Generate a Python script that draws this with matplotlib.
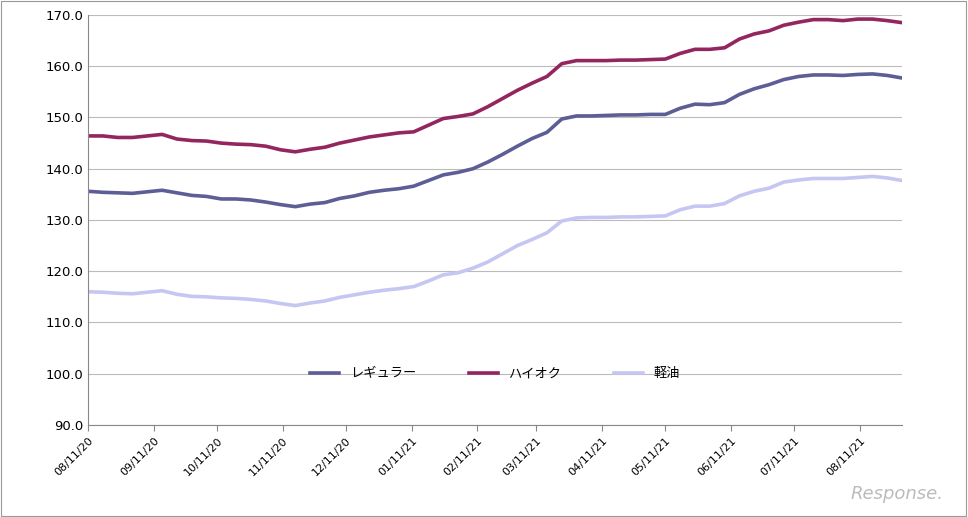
#!/usr/bin/env python3
"""Weekly gasoline / diesel retail price chart."""
import matplotlib.pyplot as plt
import matplotlib.dates as mdates
import pandas as pd

plt.rcParams["font.family"] = ["DejaVu Sans", "Noto Sans CJK JP"]

DATES = pd.date_range("2020-08-11", periods=56, freq="7D")
REGULAR = [135.6, 135.4, 135.3, 135.2, 135.5, 135.8, 135.3, 134.8, 134.6, 134.1,
           134.1, 133.9, 133.5, 133.0, 132.6, 133.1, 133.4, 134.2, 134.7, 135.4,
           135.8, 136.1, 136.6, 137.7, 138.8, 139.3, 140.0, 141.3, 142.8, 144.4,
           145.9, 147.1, 149.7, 150.3, 150.3, 150.4, 150.5, 150.5, 150.6, 150.6,
           151.8, 152.6, 152.5, 152.9, 154.5, 155.6, 156.4, 157.4, 158.0, 158.3,
           158.3, 158.2, 158.4, 158.5, 158.2, 157.7]
HIGH_OCTANE = [146.4, 146.4, 146.1, 146.1, 146.4, 146.7, 145.8, 145.5, 145.4, 145.0,
               144.8, 144.7, 144.4, 143.7, 143.3, 143.8, 144.2, 145.0, 145.6, 146.2,
               146.6, 147.0, 147.2, 148.5, 149.8, 150.2, 150.7, 152.1, 153.7, 155.3,
               156.7, 158.0, 160.5, 161.1, 161.1, 161.1, 161.2, 161.2, 161.3, 161.4,
               162.5, 163.3, 163.3, 163.6, 165.3, 166.3, 166.9, 168.0, 168.6, 169.1,
               169.1, 168.9, 169.2, 169.2, 168.9, 168.5]
DIESEL = [116.0, 115.9, 115.7, 115.6, 115.9, 116.2, 115.5, 115.1, 115.0, 114.8,
          114.7, 114.5, 114.2, 113.7, 113.3, 113.8, 114.2, 114.9, 115.4, 115.9,
          116.3, 116.6, 117.0, 118.1, 119.3, 119.7, 120.6, 121.8, 123.4, 125.0,
          126.2, 127.5, 129.8, 130.4, 130.5, 130.5, 130.6, 130.6, 130.7, 130.8,
          132.0, 132.7, 132.7, 133.2, 134.7, 135.6, 136.2, 137.4, 137.8, 138.1,
          138.1, 138.1, 138.3, 138.5, 138.2, 137.7]
SERIES = [
    (REGULAR, "レギュラー", "#5E5E97"),
    (HIGH_OCTANE, "ハイオク", "#94265F"),
    (DIESEL, "軽油", "#C6C6F2"),
]


def main():
    fig = plt.figure(figsize=(9.68, 5.17), dpi=100)
    ax = fig.add_axes([0.091, 0.178, 0.841, 0.793])
    for values, name, color in SERIES:
        ax.plot(DATES, values, color=color, linewidth=2.6, label=name)
    ax.set_ylim(90, 170)
    ax.set_yticks(range(90, 171, 10))
    ax.yaxis.set_major_formatter(plt.FuncFormatter(lambda v, _: f"{v:.1f}"))
    ax.set_xlim(DATES[0], DATES[-1])
    ticks = pd.date_range("2020-08-01", "2021-08-11", freq="MS") + pd.Timedelta(days=10)
    ax.set_xticks(ticks)
    ax.xaxis.set_major_formatter(mdates.DateFormatter("%m/%d/%y"))
    plt.setp(ax.get_xticklabels(), rotation=45, ha="right", rotation_mode="anchor",
             fontsize=8)
    plt.setp(ax.get_yticklabels(), fontsize=9.5)
    ax.grid(axis="y", color="#BBBBBB", linewidth=0.8)
    ax.set_axisbelow(True)
    for side in ("top", "right"):
        ax.spines[side].set_visible(False)
    ax.spines["left"].set_color("#888888")
    ax.spines["bottom"].set_color("#888888")
    ax.tick_params(axis="y", length=0)
    ax.tick_params(axis="x", color="#888888", length=4)
    ax.legend(loc="lower center", bbox_to_anchor=(0.5, 0.08), ncol=3, frameon=False,
              fontsize=9.5, handlelength=2.2, columnspacing=4)
    fig.text(0.975, 0.035, "Response.", ha="right", fontsize=13, color="#BBBBBB",
             style="italic")
    fig.patches.append(plt.Rectangle((0.001, 0.001), 0.997, 0.997,
                                     transform=fig.transFigure, fill=False,
                                     edgecolor="#999999", linewidth=0.8))
    fig.savefig("out.png", dpi=100)


if __name__ == "__main__":
    main()
